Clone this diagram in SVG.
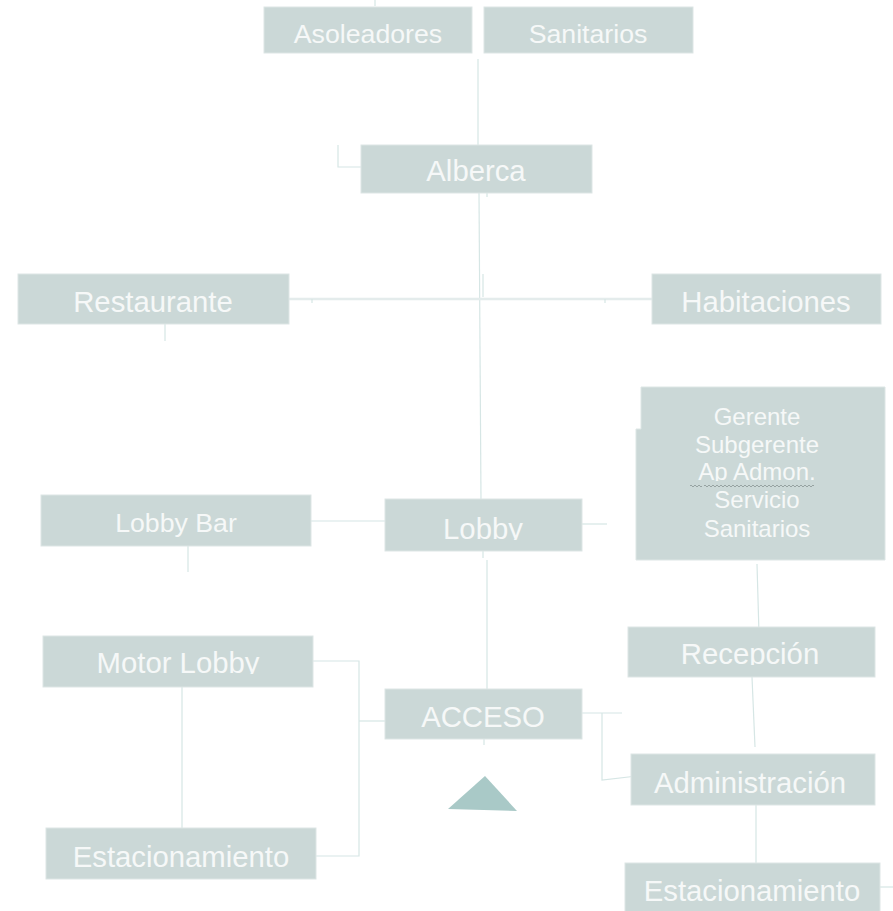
<svg xmlns="http://www.w3.org/2000/svg" width="893" height="911" viewBox="0 0 893 911">
<style>
.box{fill:#cbd8d7;stroke:#dde6e5;stroke-width:1}
.t{font-family:"Liberation Sans",Arial,sans-serif;fill:#f6f8f8;text-anchor:middle}
.b{font-size:29.3px}
.m{font-size:26.7px}
.s{font-size:24px}
.c{fill:none;stroke:#d6e6e5;stroke-width:1.2}
.c2{fill:none;stroke:#e4ecec;stroke-width:2.5}
.w{fill:none;stroke:#97a3a2;stroke-width:1}
</style>
<defs>
<clipPath id="clLobby"><rect x="380" y="495" width="210" height="45"/></clipPath>
<clipPath id="clMotor"><rect x="40" y="630" width="280" height="44"/></clipPath>
<clipPath id="clRecep"><rect x="625" y="620" width="255" height="45"/></clipPath>
<clipPath id="clAp"><rect x="636" y="455" width="250" height="26"/></clipPath>
</defs>
<rect width="893" height="911" fill="#ffffff"/>
<g id="connectors">
<line class="c" x1="375" y1="0" x2="375" y2="6"/>
<line class="c" x1="478" y1="59" x2="478" y2="145"/>
<polyline class="c" points="338,145 338,167 361,167"/>
<line class="c" x1="487" y1="180" x2="487" y2="197"/>
<line class="c" x1="479" y1="193" x2="481" y2="500"/>
<line class="c2" x1="289" y1="299" x2="652" y2="299"/>
<line class="c" x1="483" y1="274" x2="483" y2="297"/>
<line class="c" x1="312" y1="299" x2="312" y2="303"/>
<line class="c" x1="605" y1="299" x2="605" y2="303"/>
<line class="c" x1="165" y1="324" x2="165" y2="341"/>
<line class="c" x1="311" y1="521" x2="385" y2="521"/>
<line class="c" x1="188" y1="546" x2="188" y2="572"/>
<line class="c" x1="582" y1="524" x2="607" y2="524"/>
<line class="c" x1="483" y1="551" x2="483" y2="558"/>
<line class="c" x1="487" y1="560" x2="487" y2="702"/>
<line class="c" x1="757" y1="564" x2="759" y2="634"/>
<line class="c" x1="182" y1="687" x2="182" y2="836"/>
<polyline class="c" points="298,661 359,661 359,856 306,856"/>
<line class="c" x1="359" y1="721" x2="390" y2="721"/>
<line class="c" x1="484" y1="739" x2="484" y2="745"/>
<line class="c" x1="561" y1="713" x2="622" y2="713"/>
<polyline class="c" points="602,713 602,780 637,776"/>
<line class="c" x1="752" y1="677" x2="755" y2="747"/>
<line class="c" x1="756" y1="805" x2="756" y2="863"/>
<line class="c" x1="880" y1="887" x2="893" y2="887"/>
</g>
<g id="asoleadores"><rect class="box" x="264" y="7" width="208" height="46"/><text class="t m" x="368" y="43">Asoleadores</text></g>
<g id="sanitarios"><rect class="box" x="484" y="7" width="209" height="46"/><text class="t m" x="588" y="43">Sanitarios</text></g>
<g id="alberca"><rect class="box" x="361" y="145" width="231" height="48"/><text class="t b" x="476" y="181">Alberca</text></g>
<g id="restaurante"><rect class="box" x="18" y="274" width="271" height="50"/><text class="t b" x="153" y="312">Restaurante</text></g>
<g id="habitaciones"><rect class="box" x="652" y="274" width="229" height="50"/><text class="t b" x="766" y="312">Habitaciones</text></g>
<g id="gerencia"><path class="box" d="M641,387 H885 V560 H636 V429 H641 Z"/>
<text class="t s" x="757" y="425">Gerente</text>
<text class="t s" x="757" y="453">Subgerente</text>
<text class="t s" x="757" y="480" clip-path="url(#clAp)">Ap Admon.</text>
<path class="w" d="M690,486 q1,-2 2,0 t2,0 t2,0 t2,0 t2,0 t2,0"/>
<path class="w" d="M704,486 q1,-2 2,0 t2,0 t2,0 t2,0 t2,0 t2,0 t2,0 t2,0 t2,0 t2,0 t2,0 t2,0 t2,0 t2,0 t2,0 t2,0 t2,0 t2,0 t2,0 t2,0 t2,0 t2,0 t2,0 t2,0 t2,0 t2,0 t2,0 t2,0 t2,0 t2,0 t2,0 t2,0 t2,0 t2,0 t2,0 t2,0 t2,0 t2,0 t2,0 t2,0 t2,0 t2,0 t2,0 t2,0 t2,0 t2,0 t2,0 t2,0 t2,0 t2,0 t2,0 t2,0 t2,0 t2,0 t2,0"/>
<text class="t s" x="757" y="508">Servicio</text>
<text class="t s" x="757" y="537">Sanitarios</text>
</g>
<g id="lobbybar"><rect class="box" x="41" y="495" width="270" height="51"/><text class="t m" x="176" y="532">Lobby Bar</text></g>
<g id="lobby"><rect class="box" x="385" y="499" width="197" height="52"/><text class="t b" x="483" y="539" clip-path="url(#clLobby)">Lobby</text></g>
<g id="motorlobby"><rect class="box" x="43" y="636" width="270" height="51"/><text class="t b" x="178" y="673" clip-path="url(#clMotor)">Motor Lobby</text></g>
<g id="recepcion"><rect class="box" x="628" y="627" width="247" height="50"/><text class="t b" x="750" y="664" clip-path="url(#clRecep)">Recepción</text></g>
<g id="acceso"><rect class="box" x="385" y="689" width="197" height="50"/><text class="t b" x="483" y="727">ACCESO</text></g>
<g id="triangulo"><polygon points="485,776 448,809 517,811" fill="#a9c9c7"/></g>
<g id="administracion"><rect class="box" x="631" y="754" width="244" height="51"/><text class="t b" x="750" y="793">Administración</text></g>
<g id="estacionamiento1"><rect class="box" x="46" y="828" width="270" height="51"/><text class="t b" x="181" y="867">Estacionamiento</text></g>
<g id="estacionamiento2"><rect class="box" x="625" y="863" width="255" height="50"/><text class="t b" x="752" y="901">Estacionamiento</text></g>
</svg>
